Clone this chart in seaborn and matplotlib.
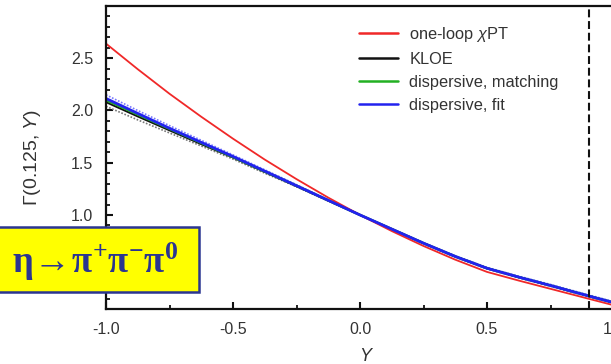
import numpy as np
import pandas as pd
import matplotlib
matplotlib.use('Agg')
import matplotlib.pyplot as plt
import seaborn as sns
from matplotlib.lines import Line2D
from matplotlib.patches import Rectangle
from matplotlib.ticker import MultipleLocator

# ---- data ----
Y = [-1.0, -0.875, -0.75, -0.625, -0.5, -0.375, -0.25, -0.125, 0.0,
     0.125, 0.25, 0.375, 0.5, 0.625, 0.75, 0.9, 1.0]
chpt = [2.64, 2.395, 2.16, 1.94, 1.73, 1.53, 1.343, 1.166, 1.0,
        0.846, 0.703, 0.572, 0.455, 0.372, 0.293, 0.198, 0.135]
kloe = [2.08, 1.943, 1.81, 1.678, 1.55, 1.412, 1.275, 1.137, 1.0,
        0.865, 0.73, 0.603, 0.49, 0.405, 0.325, 0.225, 0.16]
disp_match = [2.10, 1.962, 1.825, 1.69, 1.555, 1.417, 1.28, 1.14, 1.0,
              0.865, 0.73, 0.603, 0.49, 0.405, 0.325, 0.225, 0.16]
disp_fit = [2.115, 1.972, 1.83, 1.695, 1.56, 1.42, 1.28, 1.14, 1.0,
            0.865, 0.73, 0.603, 0.49, 0.405, 0.325, 0.225, 0.16]
fit_band_hi = [2.15, 2.0, 1.855, 1.715, 1.575, 1.432, 1.29, 1.145, 1.0,
               0.868, 0.735, 0.61, 0.498, 0.414, 0.335, 0.235, 0.17]
kloe_band_lo = [2.04, 1.91, 1.785, 1.66, 1.535, 1.40, 1.27, 1.134, 1.0,
                0.862, 0.725, 0.597, 0.484, 0.398, 0.318, 0.217, 0.152]
y_max = 0.9
labels = ['one-loop $\\chi$PT', 'KLOE', 'dispersive, matching', 'dispersive, fit']
colors = ['#F02828', '#111111', '#22B022', '#2222EE']
xticks = [-1.0, -0.5, 0.0, 0.5, 1.0]
xticklabels = ['-1.0', '-0.5', '0.0', '0.5', '1.0']
yticks = [1.0, 1.5, 2.0, 2.5]
yticklabels = ['1.0', '1.5', '2.0', '2.5']

sns.set_style('ticks')
plt.rcParams['font.family'] = ['Liberation Sans', 'DejaVu Sans']
plt.rcParams['mathtext.fontset'] = 'custom'
plt.rcParams['mathtext.rm'] = 'Liberation Sans'
plt.rcParams['mathtext.it'] = 'Liberation Sans:italic'
plt.rcParams['mathtext.bf'] = 'Liberation Serif:bold'

W, H = 611, 364
fig = plt.figure(figsize=(W / 100, H / 100), dpi=100)
ax = fig.add_axes([106 / W, 1 - 309 / H, 2.05 * 254 / W, 303 / H])

series = [chpt, kloe, disp_match, disp_fit]
widths = [1.3, 1.4, 1.8, 2.0]
order = [1, 2, 0, 3]

# bands (dotted edges)
sns.lineplot(x=Y, y=fit_band_hi, ax=ax, color='#7777FF', lw=1.2,
             linestyle=(0, (1, 1)), sort=False)
sns.lineplot(x=Y, y=kloe_band_lo, ax=ax, color='#777777', lw=1.2,
             linestyle=(0, (1, 1)), sort=False)

for i in order:
    sns.lineplot(x=Y, y=series[i], ax=ax, color=colors[i], lw=widths[i],
                 sort=False)

ax.axvline(y_max, color='#111111', lw=1.5, ls=(0, (3.8, 1.8)))

ax.set_xlim(-1.0, 1.05)
ax.set_ylim(0.1, 3.0)
ax.set_xticks(xticks)
ax.set_xticklabels(xticklabels)
ax.set_yticks(yticks)
ax.set_yticklabels(yticklabels)
ax.xaxis.set_minor_locator(MultipleLocator(0.25))
ax.yaxis.set_minor_locator(MultipleLocator(0.1))
ax.tick_params(which='both', direction='in', colors='#111111', labelcolor='#333333',
               labelsize=11.5, pad=9, top=False, right=False)
ax.tick_params(which='major', length=5, width=1.5)
ax.tick_params(which='minor', length=3, width=1.3)
for s in ax.spines.values():
    s.set_linewidth(1.6)
    s.set_color('#111111')

ax.set_xlabel('$Y$', fontsize=13, color='#333333', labelpad=8)
ax.set_ylabel('$\\Gamma$(0.125, $Y$)', fontsize=14, color='#333333', labelpad=20)

handles = [Line2D([], [], color=colors[i], lw=1.8) for i in range(4)]
leg = ax.legend(handles, labels, loc='upper left',
                bbox_to_anchor=(359 / W, 1 - 25 / H), bbox_transform=fig.transFigure,
                frameon=False, fontsize=11.8, labelcolor='#333333',
                handlelength=2.35, handletextpad=0.72, labelspacing=0.48,
                borderpad=0, borderaxespad=0)

box = Rectangle((-0.01, 1 - 292 / H), 0.01 + 199 / W, 65 / H, transform=fig.transFigure,
                facecolor='#FFFF00', edgecolor='#2B3591', lw=1.8, zorder=10)
fig.add_artist(box)
fig.text(95 / W, 1 - 262 / H, '$\\mathbf{\\eta\\!\\rightarrow\\!\\pi^{+}\\pi^{-}\\pi^{0}}$',
         ha='center', va='center', fontsize=26.5, color='#2B3591', zorder=11)

fig.savefig('out.png', dpi=100)
